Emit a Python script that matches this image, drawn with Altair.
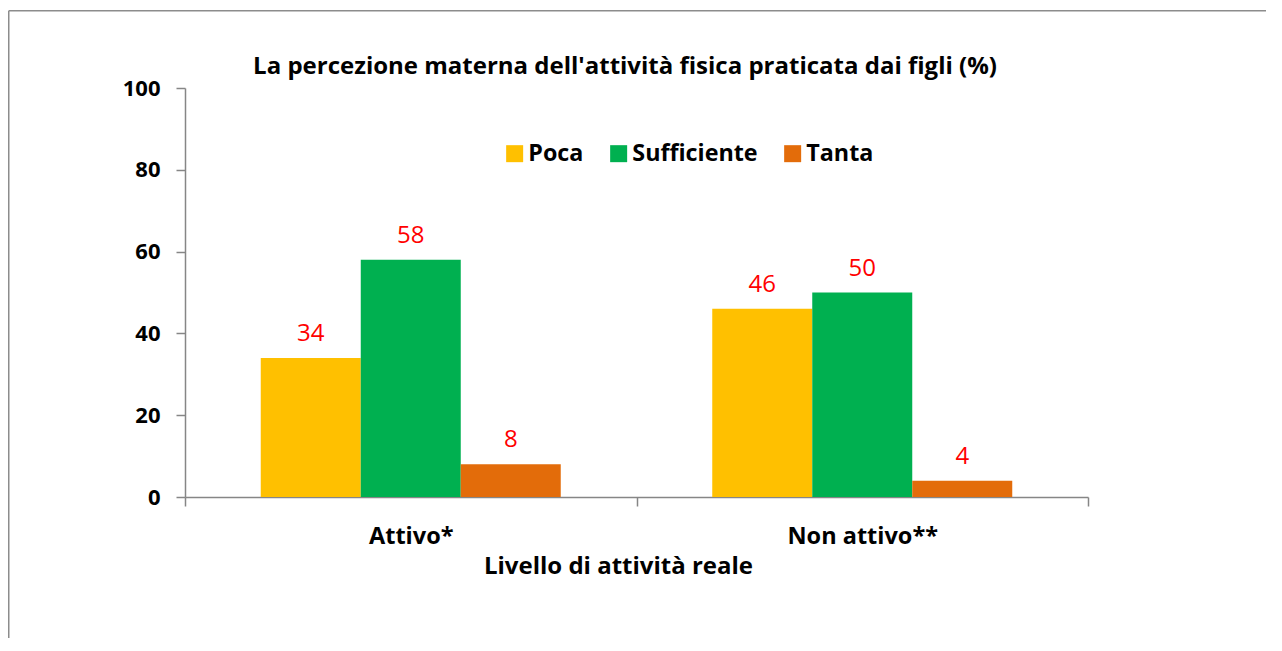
import altair as alt
import pandas as pd

title_text = "La percezione materna dell'attività fisica praticata dai figli (%)"
categories = ["Attivo*", "Non attivo**"]
series = ["Poca", "Sufficiente", "Tanta"]
poca = [34, 46]
sufficiente = [58, 50]
tanta = [8, 4]
colors = ["#FFC000", "#00B050", "#E36C0A"]

rows = []
for i, c in enumerate(categories):
    for s, vals in zip(series, [poca, sufficiente, tanta]):
        rows.append({"Livello": c, "Percezione": s, "Valore": vals[i]})
df = pd.DataFrame(rows)

FONT = "Open Sans"
AX = "#868686"

x = alt.X("Livello:N", sort=categories,
          scale=alt.Scale(paddingInner=0, paddingOuter=0),
          axis=alt.Axis(title="Livello di attività reale", labelAngle=0,
                        tickBand="extent", tickSize=9, tickColor=AX, tickWidth=1.5,
                        domainColor=AX, domainWidth=1.5,
                        labelFont=FONT, labelFontSize=23.5, labelFontWeight="bold",
                        labelColor="black", labelPadding=18,
                        titleFont=FONT, titleFontSize=24, titleFontWeight="bold",
                        titleColor="black", titleX=433, titleY=76,
                        titleAlign="center", titleBaseline="alphabetic"))
xo = alt.XOffset("Percezione:N", sort=series,
                 scale=alt.Scale(paddingOuter=0.7575, paddingInner=0))
y = alt.Y("Valore:Q", scale=alt.Scale(domain=[0, 100]),
          axis=alt.Axis(title=None, values=[0, 20, 40, 60, 80, 100], grid=False,
                        tickSize=9, tickColor=AX, tickWidth=1.5,
                        domainColor=AX, domainWidth=1.5,
                        labelFont=FONT, labelFontSize=22, labelFontWeight="bold",
                        labelColor="black", labelPadding=16))

base = alt.Chart(df)

bars = base.mark_bar().encode(
    x=x, xOffset=xo, y=y,
    color=alt.Color("Percezione:N", sort=series,
                    scale=alt.Scale(domain=series, range=colors),
                    legend=alt.Legend(title=None, orient="none", direction="horizontal",
                                      legendX=318, legendY=54, padding=0,
                                      symbolType="square", symbolSize=289,
                                      symbolStrokeWidth=0, symbolOpacity=1,
                                      labelFont=FONT, labelFontSize=23.3,
                                      labelFontWeight="bold", labelColor="black",
                                      labelOffset=2, columnPadding=23)),
)

labels = base.mark_text(font=FONT, fontSize=24, color="#FF0000",
                        baseline="alphabetic", dy=-17).encode(
    x=x, xOffset=xo, y=y, text=alt.Text("Valore:Q"))

title = alt.Chart(pd.DataFrame({"t": [title_text]})).mark_text(
    font=FONT, fontSize=24, fontWeight="bold", color="black",
    align="center", baseline="alphabetic").encode(
    text="t:N", x=alt.value(440), y=alt.value(-14))

one = pd.DataFrame({"f": [0]})
frame_top = alt.Chart(one).mark_rule(color="#8C8C8C", strokeWidth=1.5).encode(
    x=alt.value(-176.25), x2=alt.value(1095), y=alt.value(-77.25))
frame_left = alt.Chart(one).mark_rule(color="#8C8C8C", strokeWidth=1.5).encode(
    x=alt.value(-176.25), y=alt.value(-77.25), y2=alt.value(560))

chart = alt.layer(frame_top, frame_left, title, bars, labels).properties(
    width=903, height=409,
    background="white",
    autosize=alt.AutoSizeParams(type="none"),
    padding={"left": 177, "top": 80, "right": 178, "bottom": 141},
).configure_view(stroke=None)

chart.save("out.html", embed_options={"renderer": "svg", "actions": False})
